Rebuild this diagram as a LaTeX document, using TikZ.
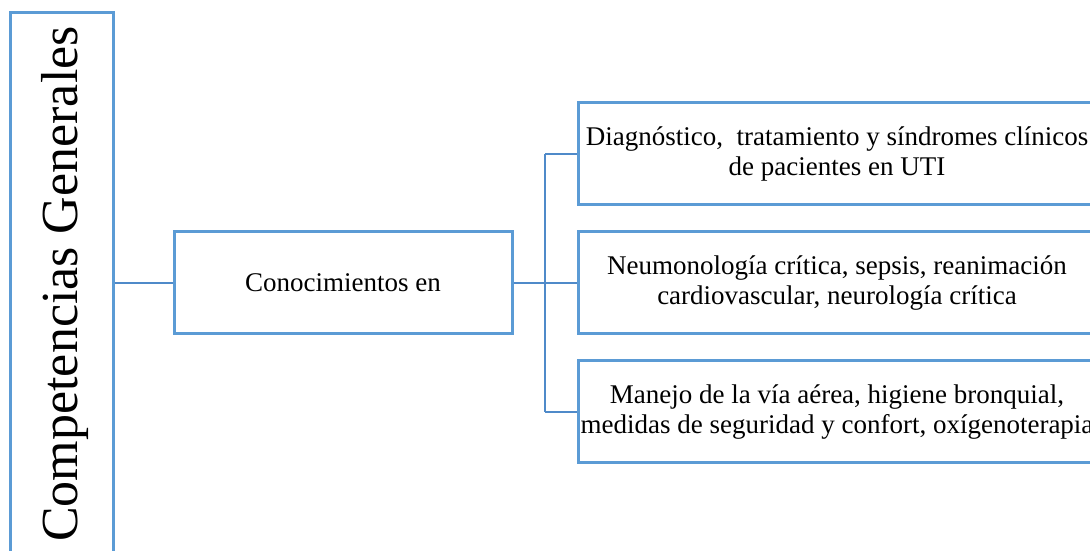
\documentclass[tikz,border=0pt]{standalone}
\usepackage{fontspec}
\setmainfont{Liberation Serif}
\definecolor{bord}{HTML}{5B9BD5}
\definecolor{conn}{HTML}{4F8AC9}
\begin{document}
\begin{tikzpicture}[x=1pt,y=1pt,
  box/.style={draw=bord, line width=3pt, rectangle, inner sep=0pt, fill=none},
  txt/.style={font=\rmfamily\fontsize{27}{29.5}\selectfont, align=center},
  conn/.style={draw=conn, line width=2.8pt}]
\useasboundingbox (0,0) rectangle (1090,551);
\clip (0,0) rectangle (1090,551);
% left box
\node[box, minimum width=103pt, minimum height=560pt] (cg) at (61.5,258) {};
\node[rotate=90, anchor=base, font=\rmfamily\fontsize{52}{60}\selectfont] (cgt) at (77,267) {Competencias Generales};
% middle box
\node[box, txt, minimum width=338pt, minimum height=102pt] (ce) at (343,268) {Conocimientos en};
% right boxes
\node[box, txt, minimum width=518pt, minimum height=102pt] (b1) at (837,397) {Diagnóstico,\ \ tratamiento y síndromes clínicos\\de pacientes en UTI};
\node[box, txt, minimum width=518pt, minimum height=102pt] (b2) at (837,268) {Neumonología crítica, sepsis, reanimación\\cardiovascular, neurología crítica};
\node[box, txt, minimum width=518pt, minimum height=102pt] (b3) at (837,139) {Manejo de la vía aérea, higiene bronquial,\\medidas de seguridad y confort, oxígenoterapia};
% connectors
\coordinate (j) at (545,268);
\draw[conn] (cg.east |- ce.west) -- (ce.west);
\draw[conn] (ce.east) -- (j);
\draw[conn] (j |- b1.west) -- (j |- b3.west);
\draw[conn] (j |- b1.west) -- (b1.west);
\draw[conn] (j) -- (b2.west);
\draw[conn] (j |- b3.west) -- (b3.west);
\end{tikzpicture}
\end{document}
